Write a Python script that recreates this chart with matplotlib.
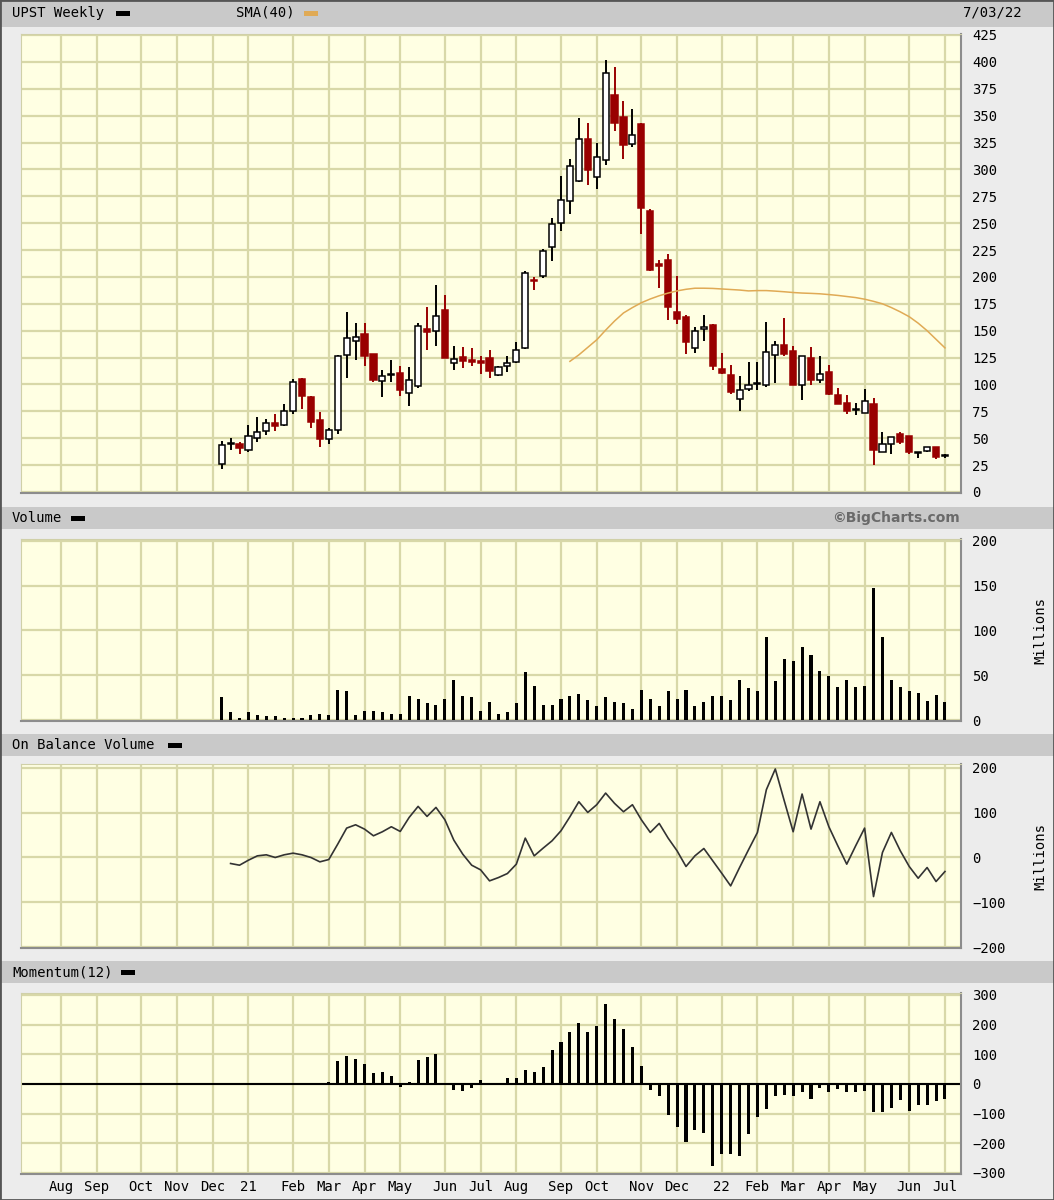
import numpy as np
import pandas as pd
import matplotlib
matplotlib.use('Agg')
import matplotlib.pyplot as plt
import matplotlib.dates as mdates
from matplotlib.patches import Rectangle

plt.rcParams['font.family'] = ['DejaVu Sans Mono', 'DejaVu Sans']

# weekly candles, UPST
opens = [26.1, 44.5, 44.7, 38.8, 50.2, 57.1, 64.5, 62.7, 75.1, 105.5,
         88.1, 67.3, 49.6, 58.0, 127.8, 140.2, 147.3, 128.4, 103.6, 109.0,
         110.7, 92.1, 98.9, 152.0, 149.5, 169.7, 120.0, 125.6, 123.1, 122.2,
         124.7, 108.6, 116.9, 121.0, 134.0, 197.6, 201.2, 227.4, 250.5, 270.5,
         289.6, 328.2, 292.7, 309.0, 369.2, 348.5, 323.9, 342.4, 261.3, 211.9,
         216.0, 167.3, 162.6, 134.0, 152.0, 155.2, 114.8, 108.5, 86.3, 96.2,
         100.0, 99.2, 127.7, 137.0, 130.8, 99.2, 124.9, 104.5, 111.6, 90.0,
         83.2, 76.0, 73.0, 81.6, 37.4, 44.5, 53.5, 51.9, 36.3, 38.0,
         42.0, 33.2]
highs = [47.8, 50.2, 46.2, 62.0, 69.8, 67.9, 72.6, 82.2, 105.5, 106.0,
         89.6, 74.1, 59.6, 127.8, 167.2, 157.3, 157.3, 128.4, 113.8, 123.1,
         117.6, 116.3, 157.3, 172.1, 192.9, 183.6, 135.5, 134.9, 134.0, 126.2,
         131.8, 117.0, 126.2, 139.3, 205.3, 200.1, 226.0, 255.1, 294.3, 309.6,
         347.6, 343.6, 324.5, 401.5, 395.4, 363.9, 355.9, 343.6, 262.8, 216.0,
         221.2, 201.2, 164.8, 153.0, 164.2, 156.0, 129.5, 118.4, 107.6, 120.9,
         120.9, 158.0, 140.1, 161.7, 135.4, 126.5, 134.8, 126.1, 118.4, 96.8,
         90.0, 83.2, 95.5, 87.8, 55.9, 51.3, 55.9, 51.9, 37.4, 42.0,
         42.0, 35.8]
lows = [21.4, 39.4, 35.4, 36.9, 46.2, 53.3, 57.1, 61.1, 72.9, 77.2,
        59.6, 41.9, 45.0, 54.3, 106.1, 122.5, 116.9, 102.0, 88.4, 102.0,
        89.0, 80.3, 96.8, 131.8, 135.5, 124.7, 113.8, 115.4, 117.6, 110.1,
        106.1, 108.0, 111.4, 120.0, 133.1, 187.7, 198.7, 215.0, 242.8, 258.2,
        288.1, 285.3, 281.3, 304.4, 335.9, 310.0, 320.8, 239.7, 205.8, 189.5,
        159.6, 156.5, 128.7, 129.5, 140.0, 113.7, 109.5, 91.5, 75.4, 93.7,
        95.2, 97.7, 101.4, 126.5, 99.9, 85.3, 99.9, 101.4, 90.0, 82.2,
        72.3, 72.0, 73.0, 25.0, 37.4, 35.8, 44.2, 35.8, 31.2, 36.8,
        30.6, 31.2]
closes = [44.0, 45.0, 40.9, 51.8, 55.5, 64.5, 61.7, 75.1, 102.4, 89.6,
          65.1, 49.6, 57.4, 126.2, 143.3, 144.2, 126.2, 104.5, 107.9, 109.4,
          95.2, 103.9, 154.2, 148.6, 163.5, 124.7, 124.1, 121.6, 121.0, 120.0,
          112.9, 116.0, 120.0, 132.4, 203.2, 196.0, 224.3, 249.0, 271.5, 303.5,
          328.2, 299.2, 311.5, 389.8, 343.0, 322.3, 332.2, 264.4, 206.7, 209.8,
          171.9, 161.1, 139.5, 150.0, 153.0, 117.5, 110.5, 93.1, 95.2, 99.2,
          101.0, 130.2, 137.0, 128.6, 99.9, 126.5, 104.5, 109.4, 91.5, 82.2,
          75.4, 76.5, 84.4, 38.9, 45.1, 51.3, 46.7, 37.4, 36.5, 42.0,
          32.8, 33.5]

# SMA(40), from week 39 on
sma40 = [121.5, 127.5, 134.5, 141.5, 150.5, 159.0, 166.5, 171.5, 176.0, 179.5,
         182.5, 185.0, 187.0, 188.5, 189.5, 189.5, 189.3, 188.8, 188.3, 187.8,
         187.0, 187.3, 187.3, 186.8, 186.2, 185.5, 185.0, 184.7, 184.3, 183.6,
         182.8, 181.8, 180.8, 179.3, 177.3, 175.0, 171.5, 167.5, 163.0, 157.0,
         150.0, 142.0, 134.0]

# volume, millions
volume = [25.4, 9.3, 2.6, 9.3, 5.6, 4.1, 4.1, 2.2, 2.2, 2.2,
          5.6, 7.1, 5.6, 33.6, 32.1, 5.6, 10.4, 10.4, 9.0, 7.1,
          7.1, 26.9, 23.5, 19.0, 17.2, 23.5, 44.8, 26.9, 25.4, 10.4,
          20.5, 7.1, 9.0, 18.7, 53.4, 38.4, 17.2, 17.2, 23.5, 26.9,
          28.7, 22.0, 15.3, 25.4, 20.5, 18.7, 11.9, 33.6, 23.5, 15.3,
          32.1, 23.5, 33.6, 15.3, 20.5, 26.9, 26.9, 22.0, 44.8, 35.4,
          32.1, 92.5, 43.3, 67.9, 66.4, 81.3, 72.8, 54.5, 49.6, 36.6,
          44.8, 36.6, 38.4, 148.0, 92.5, 44.8, 37.2, 32.7, 29.8, 21.2,
          27.9, 19.8]

# on balance volume, millions, from week 1 on
obv = [-13.4, -17.2, -6.0, 3.7, 6.0, 0.0, 6.0, 9.7, 6.0, 0.0,
       -9.7, -4.5, 29.9, 65.7, 73.1, 63.4, 48.5, 57.5, 68.7, 58.2,
       89.6, 114.2, 91.8, 111.9, 84.3, 38.8, 7.5, -17.2, -27.6, -52.2,
       -44.8, -35.8, -14.9, 43.3, 3.7, 20.9, 37.3, 59.7, 91.0, 124.6,
       100.7, 117.9, 143.9, 120.9, 102.2, 117.9, 84.3, 56.0, 76.1, 43.3,
       14.9, -20.1, 3.7, 20.1, -7.5, -35.1, -63.4, -22.4, 17.2, 56.0,
       151.5, 197.8, 126.9, 57.5, 141.8, 63.4, 124.6, 68.7, 26.1, -14.9,
       26.1, 65.7, -87.3, 11.2, 56.0, 14.9, -20.1, -46.3, -22.4, -53.7,
       -31.3]

# momentum(12), from week 12 on
momentum = [6.7, 76.4, 95.5, 85.4, 66.3, 37.1, 41.6, 27.0, -11.2, 7.9,
            82.0, 91.0, 100.0, -1.5, -21.3, -24.7, -12.4, 12.4, 0.0, 0.0,
            21.3, 21.3, 46.1, 41.6, 57.3, 115.7, 141.6, 175.3, 205.6, 175.3,
            195.5, 268.5, 219.1, 184.3, 124.7, 60.7, -21.3, -41.6, -105.6, -144.9,
            -195.5, -153.9, -164.0, -277.5, -237.1, -234.8, -242.7, -169.7, -111.2, -84.3,
            -41.6, -37.1, -41.6, -27.0, -50.6, -12.4, -27.0, -16.9, -27.0, -27.0,
            -22.5, -95.5, -95.5, -79.8, -55.1, -89.9, -71.9, -69.7, -58.4, -51.7]

month_lines = ['2020-08-07', '2020-09-04', '2020-10-09', '2020-11-06', '2020-12-04',
               '2021-01-01', '2021-02-05', '2021-03-05', '2021-04-02', '2021-04-30',
               '2021-06-04', '2021-07-02', '2021-07-30', '2021-09-03', '2021-10-01',
               '2021-11-05', '2021-12-03', '2022-01-07', '2022-02-04', '2022-03-04',
               '2022-04-01', '2022-04-29', '2022-06-03', '2022-07-01']
month_labels = ['Aug', 'Sep', 'Oct', 'Nov', 'Dec', '21', 'Feb', 'Mar', 'Apr', 'May',
                'Jun', 'Jul', 'Aug', 'Sep', 'Oct', 'Nov', 'Dec', '22', 'Feb', 'Mar',
                'Apr', 'May', 'Jun', 'Jul']

W, H = 1054, 1200
BG = '#ececec'
STRIP = '#c9c9c9'
PLOT_BG = '#ffffe3'
GRID = '#d8d8a8'
RED = '#990000'
SMA_COL = '#e0aa55'

dates = pd.date_range(end='2022-07-01', periods=len(closes), freq='7D')
x = mdates.date2num(dates)
grid_x = mdates.date2num(pd.to_datetime(month_lines))
last = x[-1]
x_left, x_right = last - 103.47 * 7, last + 1.74 * 7

fig = plt.figure(figsize=(W / 100, H / 100), dpi=100, facecolor=BG)


def fig_text(px, py, s, **kw):
    fig.text(px / W, 1 - py / H, s, va='center', fontsize=10, **kw)


def strip(top, bottom):
    fig.add_artist(Rectangle((0, 1 - bottom / H), 1, (bottom - top) / H,
                             transform=fig.transFigure, facecolor=STRIP,
                             edgecolor='none', zorder=0))


def swatch(px, py, color):
    fig.add_artist(Rectangle((px / W, 1 - (py + 2.5) / H), 14 / W, 5 / H,
                             transform=fig.transFigure, facecolor=color,
                             edgecolor='none'))


def panel(top, bottom, ylim, yticks):
    ax = fig.add_axes([21 / W, 1 - bottom / H, 939.5 / W, (bottom - top) / H])
    ax.set_facecolor(PLOT_BG)
    ax.set_xlim(x_left, x_right)
    ax.set_ylim(*ylim)
    ax.set_xticks(grid_x)
    ax.set_yticks(yticks)
    ax.grid(True, color=GRID, lw=1.6)
    ax.set_axisbelow(True)
    ax.yaxis.tick_right()
    ax.tick_params(length=0, labelsize=10, pad=8.5)
    ax.tick_params(axis='x', labelbottom=False)
    for s in ['left', 'top']:
        ax.spines[s].set_color('#d0d0a8')
    for s in ['right', 'bottom']:
        ax.spines[s].set_color('#8c8c8c')
        ax.spines[s].set_linewidth(1.5)
    return ax


# header strips
strip(0, 27)
strip(507, 529)
strip(734, 756)
strip(961, 983)

fig_text(12, 13, 'UPST Weekly')
swatch(116, 13, 'black')
fig_text(236, 13, 'SMA(40)')
swatch(304, 13, SMA_COL)
fig_text(1022, 13, '7/03/22', ha='right')

fig_text(12, 518, 'Volume')
swatch(71, 518, 'black')
fig_text(960, 518, '\u00a9BigCharts.com', ha='right', family='DejaVu Sans',
         fontweight='bold', color='#6a6a6a')
fig_text(12, 745, 'On Balance Volume')
swatch(168, 745, 'black')
fig_text(12, 972, 'Momentum(12)')
swatch(121, 972, 'black')

# price panel
ax = panel(34, 493, (-0.93, 425.9), np.arange(0, 426, 25))
o = np.array(opens)
c = np.array(closes)
up = c >= o
wick_col = ['black' if u else RED for u in up]
ax.vlines(x, lows, highs, colors=wick_col, lw=1.4, zorder=2)
body_h = np.maximum(np.abs(c - o), 1.0)
body_b = np.minimum(o, c)
ax.bar(x, body_h, bottom=body_b, width=4.8,
       color=['white' if u else RED for u in up],
       edgecolor=wick_col, lw=1.1, zorder=3)
ax.plot(x[len(x) - len(sma40):], sma40, color=SMA_COL, lw=1.1, zorder=4)

# volume panel
axv = panel(539, 721, (-1.1, 202.2), [0, 50, 100, 150, 200])
axv.bar(x, volume, width=2.4, color='black', zorder=3)
fig_text(1040, 630, 'Millions', rotation=90, ha='center')

# on balance volume panel
axo = panel(764, 948, (-202.2, 208.9), [-200, -100, 0, 100, 200])
axo.plot(x[len(x) - len(obv):], obv, color='#333333', lw=1.2, zorder=3)
fig_text(1040, 856, 'Millions', rotation=90, ha='center')

# momentum panel
axm = panel(993, 1174, (-303.4, 306.7), np.arange(-300, 301, 100))
axm.axhline(0, color='black', lw=1.5, zorder=2)
axm.bar(x[len(x) - len(momentum):], momentum, width=2.4, color='black', zorder=3)
axm.tick_params(axis='x', labelbottom=True, pad=4)
axm.set_xticklabels(month_labels)

fig.add_artist(Rectangle((0, 0), 1, 1, transform=fig.transFigure,
                         facecolor='none', edgecolor='#555555', lw=2))

fig.savefig('out.png', dpi=100, facecolor=BG)
